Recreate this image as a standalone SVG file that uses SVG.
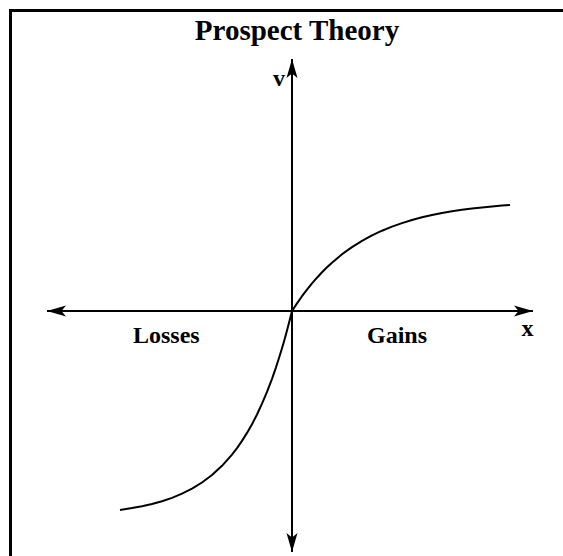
<svg xmlns="http://www.w3.org/2000/svg" width="563" height="556" viewBox="0 0 563 556">
<defs>
<style>
.lbl{font-family:"Liberation Serif","Times New Roman",serif;font-weight:bold;font-size:24px;fill:#000}
.title{font-family:"Liberation Serif","Times New Roman",serif;font-weight:bold;font-size:29px;fill:#000}
.axis{stroke:#000;stroke-width:2;fill:none}
.curve{stroke:#000;stroke-width:2;fill:none;stroke-linejoin:round;stroke-linecap:butt}
</style>
<marker id="arrow" viewBox="-20 -6 21 12" refX="0" refY="0" markerWidth="21" markerHeight="12" markerUnits="userSpaceOnUse" orient="auto">
<path d="M0,0 L-19,-5.5 L-14.5,0 L-19,5.5 Z" fill="#000"/>
</marker>
</defs>
<rect width="563" height="556" fill="#fff"/>
<rect x="10.5" y="10.5" width="700" height="700" fill="none" stroke="#000" stroke-width="3"/>
<g id="title"><text class="title" x="297" y="40" text-anchor="middle">Prospect Theory</text></g>
<g id="connectors">
<line class="axis" x1="292" y1="311" x2="47" y2="311" marker-end="url(#arrow)"/>
<line class="axis" x1="292" y1="311" x2="533" y2="311" marker-end="url(#arrow)"/>
<line class="axis" x1="292" y1="311" x2="292" y2="59" marker-end="url(#arrow)"/>
<line class="axis" x1="292" y1="311" x2="292" y2="552" marker-end="url(#arrow)"/>
</g>
<g id="value-curve">
<path class="curve" d="M510,204.9 L502,205.5 L492,206.4 L482,207.4 L472,208.5 L462,209.8 L452,211.3 L442,213 L432,215 L422,217.3 L412,220 L402,223.1 L392,226.6 L382,230.7 L372,235.4 L362,240.8 L352,247.1 L347,250.6 L342,254.3 L337,258.4 L332,262.7 L327,267.3 L322,272.3 L317,277.7 L312,283.4 L307,289.6 L302,296.2 L297,303.35 L292,311 L290,319.1 L287,330.6 L284,341.4 L282,348.3 L279,358 L276,367.3 L272,378.8 L267,391.9 L262,403.7 L257,414.5 L252,424.2 L247,432.9 L242,440.9 L237,448.1 L232,454.6 L222,465.8 L212,475 L202,482.5 L192,488.7 L182,493.7 L172,497.9 L162,501.2 L152,504 L142,506.3 L132,508.1 L120,509.9"/>
</g>
<g id="label-v"><text class="lbl" x="273" y="86">v</text></g>
<g id="label-x"><text class="lbl" x="521.5" y="336">x</text></g>
<g id="label-losses"><text class="lbl" x="133" y="343">Losses</text></g>
<g id="label-gains"><text class="lbl" x="367" y="343">Gains</text></g>
</svg>
